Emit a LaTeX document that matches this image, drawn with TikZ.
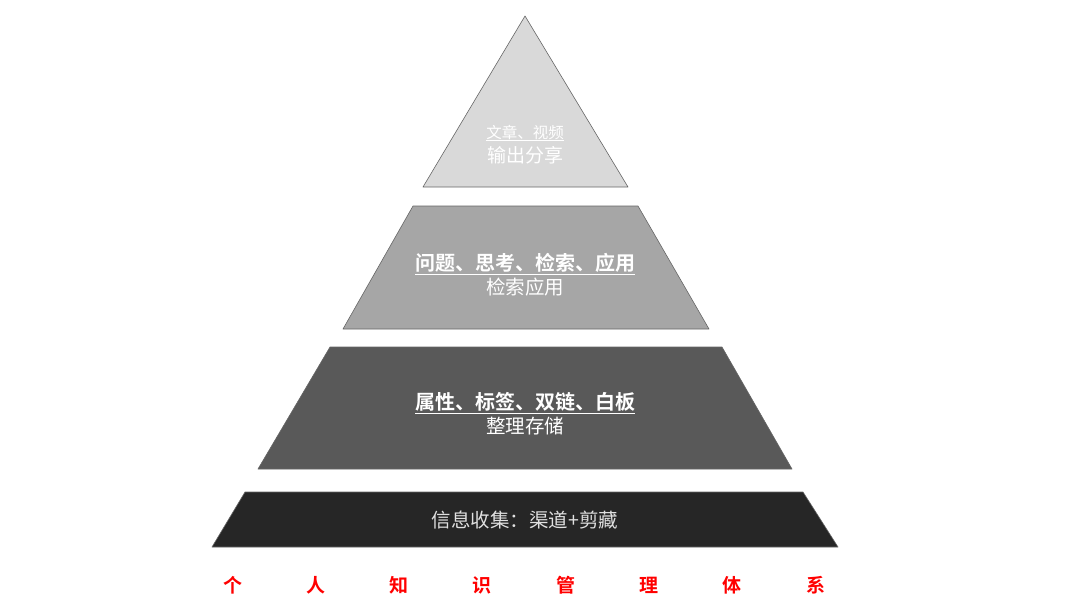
\documentclass[tikz,border=0pt]{standalone}
\usepackage{fontspec}
\setmainfont{Noto Sans CJK SC}[BoldFont={Noto Sans CJK SC Bold}]
\begin{document}
\begin{tikzpicture}[x=1pt,y=-1pt,
  layer/.style={draw=black!60, line width=0.6pt, line join=round},
  lbl/.style={anchor=base, inner sep=0pt, text=white},
  red/.style={anchor=base, inner sep=0pt, text=red, font=\fontsize{19}{19}\selectfont\bfseries}]
\useasboundingbox (0,0) rectangle (1080,608);
% layers
\path[layer, fill=black!15] (525,16) -- (628,187) -- (423,187) -- cycle;
\path[layer, fill=black!35] (413,206) -- (638,206) -- (709,329) -- (343,329) -- cycle;
\path[layer, fill=black!65] (330,347) -- (722,347) -- (792,469) -- (258,469) -- cycle;
\path[layer, fill=black!85] (245,492) -- (803,492) -- (838,547) -- (212,547) -- cycle;
% texts
\node[lbl, font=\fontsize{15.5}{15.5}\selectfont] (t1) at (525,138) {\underline{文章、视频}};
\node[lbl, font=\fontsize{19}{19}\selectfont] (t2) at (525,162) {输出分享};
\node[lbl, font=\fontsize{20}{20}\selectfont\bfseries] (s1) at (525,270.5) {\underline{问题、思考、检索、应用}};
\node[lbl, font=\fontsize{19.5}{19.5}\selectfont] (s2) at (525,294.5) {检索应用};
\node[lbl, font=\fontsize{20}{20}\selectfont\bfseries] (o1) at (525,409.5) {\underline{属性、标签、双链、白板}};
\node[lbl, font=\fontsize{19.5}{19.5}\selectfont] (o2) at (525,433.5) {整理存储};
\node[lbl, text=black!12, font=\fontsize{19.5}{19.5}\selectfont] (c1) at (525,527.5) {信息收集：渠道+剪藏};
% red caption
\node[red] (r1) at (233,592) {个};
\node[red] (r2) at (316,592) {人};
\node[red] (r3) at (399,592) {知};
\node[red] (r4) at (482,592) {识};
\node[red] (r5) at (566,592) {管};
\node[red] (r6) at (649,592) {理};
\node[red] (r7) at (732,592) {体};
\node[red] (r8) at (816,592) {系};
\end{tikzpicture}
\end{document}
